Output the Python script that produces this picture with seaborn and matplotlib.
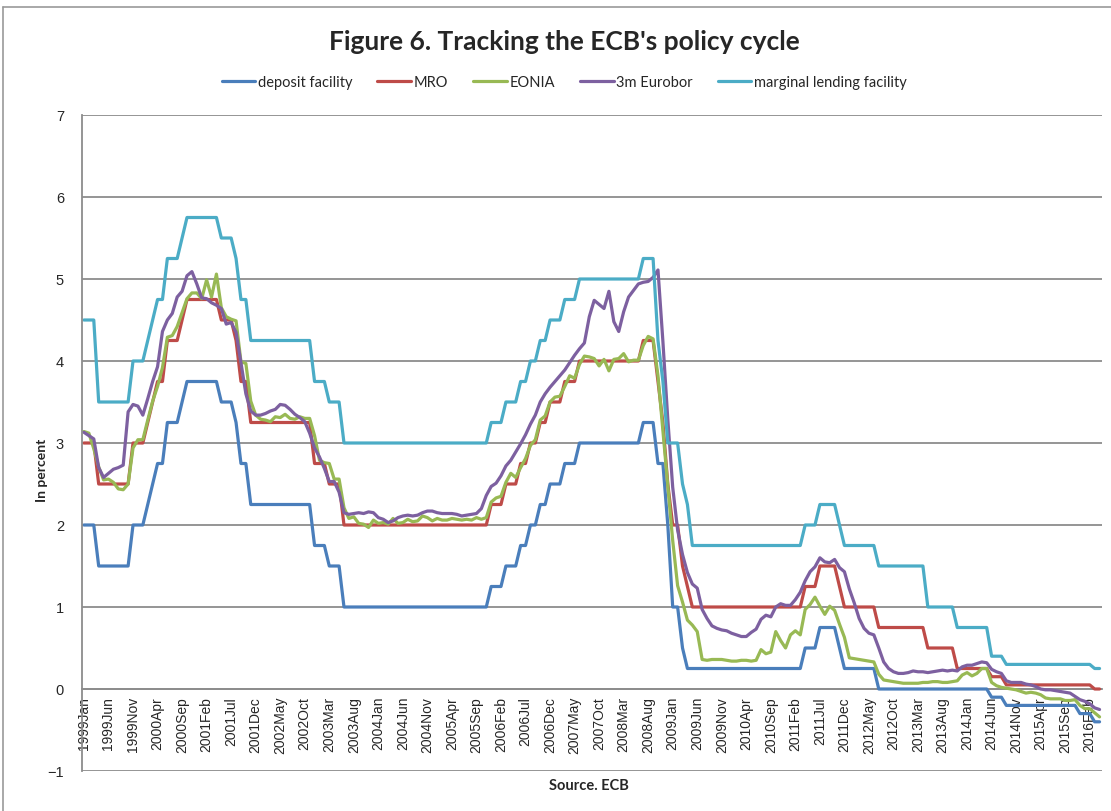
import numpy as np
import pandas as pd
import seaborn as sns
import matplotlib.pyplot as plt
from matplotlib.lines import Line2D

sns.set_theme(style="white")
plt.rcParams['font.family'] = ['Liberation Sans', 'DejaVu Sans']

# monthly data, 1999Jan .. 2016Apr (one row per year)
deposit = [
    2.00, 2.00, 2.00, 1.50, 1.50, 1.50, 1.50, 1.50, 1.50, 1.50, 2.00, 2.00,
    2.00, 2.25, 2.50, 2.75, 2.75, 3.25, 3.25, 3.25, 3.50, 3.75, 3.75, 3.75,
    3.75, 3.75, 3.75, 3.75, 3.50, 3.50, 3.50, 3.25, 2.75, 2.75, 2.25, 2.25,
    2.25, 2.25, 2.25, 2.25, 2.25, 2.25, 2.25, 2.25, 2.25, 2.25, 2.25, 1.75,
    1.75, 1.75, 1.50, 1.50, 1.50, 1.00, 1.00, 1.00, 1.00, 1.00, 1.00, 1.00,
    1.00, 1.00, 1.00, 1.00, 1.00, 1.00, 1.00, 1.00, 1.00, 1.00, 1.00, 1.00,
    1.00, 1.00, 1.00, 1.00, 1.00, 1.00, 1.00, 1.00, 1.00, 1.00, 1.00, 1.25,
    1.25, 1.25, 1.50, 1.50, 1.50, 1.75, 1.75, 2.00, 2.00, 2.25, 2.25, 2.50,
    2.50, 2.50, 2.75, 2.75, 2.75, 3.00, 3.00, 3.00, 3.00, 3.00, 3.00, 3.00,
    3.00, 3.00, 3.00, 3.00, 3.00, 3.00, 3.25, 3.25, 3.25, 2.75, 2.75, 2.00,
    1.00, 1.00, 0.50, 0.25, 0.25, 0.25, 0.25, 0.25, 0.25, 0.25, 0.25, 0.25,
    0.25, 0.25, 0.25, 0.25, 0.25, 0.25, 0.25, 0.25, 0.25, 0.25, 0.25, 0.25,
    0.25, 0.25, 0.25, 0.50, 0.50, 0.50, 0.75, 0.75, 0.75, 0.75, 0.50, 0.25,
    0.25, 0.25, 0.25, 0.25, 0.25, 0.25, 0.00, 0.00, 0.00, 0.00, 0.00, 0.00,
    0.00, 0.00, 0.00, 0.00, 0.00, 0.00, 0.00, 0.00, 0.00, 0.00, 0.00, 0.00,
    0.00, 0.00, 0.00, 0.00, 0.00, -0.10, -0.10, -0.10, -0.20, -0.20, -0.20, -0.20,
    -0.20, -0.20, -0.20, -0.20, -0.20, -0.20, -0.20, -0.20, -0.20, -0.20, -0.20, -0.30,
    -0.30, -0.30, -0.40, -0.40,
]
mro = [
    3.00, 3.00, 3.00, 2.50, 2.50, 2.50, 2.50, 2.50, 2.50, 2.50, 3.00, 3.00,
    3.00, 3.25, 3.50, 3.75, 3.75, 4.25, 4.25, 4.25, 4.50, 4.75, 4.75, 4.75,
    4.75, 4.75, 4.75, 4.75, 4.50, 4.50, 4.50, 4.25, 3.75, 3.75, 3.25, 3.25,
    3.25, 3.25, 3.25, 3.25, 3.25, 3.25, 3.25, 3.25, 3.25, 3.25, 3.25, 2.75,
    2.75, 2.75, 2.50, 2.50, 2.50, 2.00, 2.00, 2.00, 2.00, 2.00, 2.00, 2.00,
    2.00, 2.00, 2.00, 2.00, 2.00, 2.00, 2.00, 2.00, 2.00, 2.00, 2.00, 2.00,
    2.00, 2.00, 2.00, 2.00, 2.00, 2.00, 2.00, 2.00, 2.00, 2.00, 2.00, 2.25,
    2.25, 2.25, 2.50, 2.50, 2.50, 2.75, 2.75, 3.00, 3.00, 3.25, 3.25, 3.50,
    3.50, 3.50, 3.75, 3.75, 3.75, 4.00, 4.00, 4.00, 4.00, 4.00, 4.00, 4.00,
    4.00, 4.00, 4.00, 4.00, 4.00, 4.00, 4.25, 4.25, 4.25, 3.75, 3.25, 2.50,
    2.00, 2.00, 1.50, 1.25, 1.00, 1.00, 1.00, 1.00, 1.00, 1.00, 1.00, 1.00,
    1.00, 1.00, 1.00, 1.00, 1.00, 1.00, 1.00, 1.00, 1.00, 1.00, 1.00, 1.00,
    1.00, 1.00, 1.00, 1.25, 1.25, 1.25, 1.50, 1.50, 1.50, 1.50, 1.25, 1.00,
    1.00, 1.00, 1.00, 1.00, 1.00, 1.00, 0.75, 0.75, 0.75, 0.75, 0.75, 0.75,
    0.75, 0.75, 0.75, 0.75, 0.50, 0.50, 0.50, 0.50, 0.50, 0.50, 0.25, 0.25,
    0.25, 0.25, 0.25, 0.25, 0.25, 0.15, 0.15, 0.15, 0.05, 0.05, 0.05, 0.05,
    0.05, 0.05, 0.05, 0.05, 0.05, 0.05, 0.05, 0.05, 0.05, 0.05, 0.05, 0.05,
    0.05, 0.05, 0.00, 0.00,
]
eonia = [
    3.14, 3.12, 2.93, 2.71, 2.55, 2.56, 2.52, 2.44, 2.43, 2.50, 2.94, 3.04,
    3.04, 3.28, 3.51, 3.69, 3.92, 4.29, 4.31, 4.42, 4.59, 4.76, 4.83, 4.83,
    4.76, 4.99, 4.78, 5.06, 4.65, 4.54, 4.51, 4.49, 3.99, 3.97, 3.51, 3.34,
    3.29, 3.28, 3.26, 3.32, 3.31, 3.35, 3.30, 3.29, 3.32, 3.30, 3.30, 3.09,
    2.79, 2.76, 2.75, 2.56, 2.56, 2.21, 2.08, 2.10, 2.02, 2.01, 1.97, 2.06,
    2.02, 2.03, 2.01, 2.08, 2.02, 2.03, 2.07, 2.04, 2.05, 2.11, 2.09, 2.05,
    2.08, 2.06, 2.06, 2.08, 2.07, 2.06, 2.07, 2.06, 2.09, 2.07, 2.09, 2.28,
    2.33, 2.35, 2.52, 2.63, 2.58, 2.70, 2.81, 2.97, 3.04, 3.28, 3.33, 3.50,
    3.56, 3.57, 3.69, 3.82, 3.79, 3.96, 4.06, 4.05, 4.03, 3.94, 4.02, 3.88,
    4.02, 4.03, 4.09, 3.99, 4.01, 4.01, 4.19, 4.30, 4.27, 3.82, 3.15, 2.49,
    1.81, 1.26, 1.06, 0.84, 0.78, 0.70, 0.36, 0.35, 0.36, 0.36, 0.36, 0.35,
    0.34, 0.34, 0.35, 0.35, 0.34, 0.35, 0.48, 0.43, 0.45, 0.70, 0.59, 0.50,
    0.66, 0.71, 0.66, 0.97, 1.03, 1.12, 1.01, 0.91, 1.01, 0.96, 0.79, 0.63,
    0.38, 0.37, 0.36, 0.35, 0.34, 0.33, 0.18, 0.11, 0.10, 0.09, 0.08, 0.07,
    0.07, 0.07, 0.07, 0.08, 0.08, 0.09, 0.09, 0.08, 0.08, 0.09, 0.10, 0.17,
    0.20, 0.16, 0.19, 0.25, 0.25, 0.08, 0.04, 0.02, 0.01, 0.00, -0.01, -0.03,
    -0.05, -0.04, -0.05, -0.07, -0.11, -0.12, -0.12, -0.12, -0.14, -0.14, -0.13, -0.20,
    -0.24, -0.24, -0.29, -0.34,
]
euribor = [
    3.13, 3.09, 3.05, 2.70, 2.58, 2.63, 2.68, 2.70, 2.73, 3.38, 3.47, 3.45,
    3.34, 3.54, 3.75, 3.93, 4.36, 4.50, 4.58, 4.78, 4.85, 5.04, 5.09, 4.94,
    4.77, 4.76, 4.71, 4.68, 4.64, 4.45, 4.47, 4.35, 3.98, 3.60, 3.39, 3.34,
    3.34, 3.36, 3.39, 3.41, 3.47, 3.46, 3.41, 3.35, 3.31, 3.26, 3.12, 2.94,
    2.83, 2.69, 2.53, 2.53, 2.40, 2.15, 2.13, 2.14, 2.15, 2.14, 2.16, 2.15,
    2.09, 2.07, 2.03, 2.05, 2.09, 2.11, 2.12, 2.11, 2.12, 2.15, 2.17, 2.17,
    2.15, 2.14, 2.14, 2.14, 2.13, 2.11, 2.12, 2.13, 2.14, 2.20, 2.36, 2.47,
    2.51, 2.60, 2.72, 2.79, 2.89, 2.99, 3.10, 3.23, 3.34, 3.50, 3.60, 3.68,
    3.75, 3.82, 3.89, 3.98, 4.07, 4.15, 4.22, 4.54, 4.74, 4.69, 4.64, 4.85,
    4.48, 4.36, 4.60, 4.78, 4.86, 4.94, 4.96, 4.97, 5.02, 5.11, 4.24, 3.29,
    2.46, 1.94, 1.64, 1.42, 1.28, 1.23, 0.97, 0.86, 0.77, 0.74, 0.72, 0.71,
    0.68, 0.66, 0.64, 0.64, 0.69, 0.73, 0.85, 0.90, 0.88, 1.00, 1.04, 1.02,
    1.02, 1.09, 1.18, 1.32, 1.43, 1.49, 1.60, 1.55, 1.54, 1.58, 1.48, 1.43,
    1.22, 1.05, 0.86, 0.74, 0.68, 0.66, 0.50, 0.33, 0.25, 0.21, 0.19, 0.19,
    0.20, 0.22, 0.21, 0.21, 0.20, 0.21, 0.22, 0.23, 0.22, 0.23, 0.22, 0.27,
    0.29, 0.29, 0.31, 0.33, 0.32, 0.24, 0.21, 0.19, 0.10, 0.08, 0.08, 0.08,
    0.06, 0.05, 0.03, 0.00, -0.01, -0.01, -0.02, -0.03, -0.04, -0.05, -0.09, -0.13,
    -0.15, -0.18, -0.23, -0.25,
]
marginal = [
    4.50, 4.50, 4.50, 3.50, 3.50, 3.50, 3.50, 3.50, 3.50, 3.50, 4.00, 4.00,
    4.00, 4.25, 4.50, 4.75, 4.75, 5.25, 5.25, 5.25, 5.50, 5.75, 5.75, 5.75,
    5.75, 5.75, 5.75, 5.75, 5.50, 5.50, 5.50, 5.25, 4.75, 4.75, 4.25, 4.25,
    4.25, 4.25, 4.25, 4.25, 4.25, 4.25, 4.25, 4.25, 4.25, 4.25, 4.25, 3.75,
    3.75, 3.75, 3.50, 3.50, 3.50, 3.00, 3.00, 3.00, 3.00, 3.00, 3.00, 3.00,
    3.00, 3.00, 3.00, 3.00, 3.00, 3.00, 3.00, 3.00, 3.00, 3.00, 3.00, 3.00,
    3.00, 3.00, 3.00, 3.00, 3.00, 3.00, 3.00, 3.00, 3.00, 3.00, 3.00, 3.25,
    3.25, 3.25, 3.50, 3.50, 3.50, 3.75, 3.75, 4.00, 4.00, 4.25, 4.25, 4.50,
    4.50, 4.50, 4.75, 4.75, 4.75, 5.00, 5.00, 5.00, 5.00, 5.00, 5.00, 5.00,
    5.00, 5.00, 5.00, 5.00, 5.00, 5.00, 5.25, 5.25, 5.25, 4.25, 3.75, 3.00,
    3.00, 3.00, 2.50, 2.25, 1.75, 1.75, 1.75, 1.75, 1.75, 1.75, 1.75, 1.75,
    1.75, 1.75, 1.75, 1.75, 1.75, 1.75, 1.75, 1.75, 1.75, 1.75, 1.75, 1.75,
    1.75, 1.75, 1.75, 2.00, 2.00, 2.00, 2.25, 2.25, 2.25, 2.25, 2.00, 1.75,
    1.75, 1.75, 1.75, 1.75, 1.75, 1.75, 1.50, 1.50, 1.50, 1.50, 1.50, 1.50,
    1.50, 1.50, 1.50, 1.50, 1.00, 1.00, 1.00, 1.00, 1.00, 1.00, 0.75, 0.75,
    0.75, 0.75, 0.75, 0.75, 0.75, 0.40, 0.40, 0.40, 0.30, 0.30, 0.30, 0.30,
    0.30, 0.30, 0.30, 0.30, 0.30, 0.30, 0.30, 0.30, 0.30, 0.30, 0.30, 0.30,
    0.30, 0.30, 0.25, 0.25,
]

series_names = ["deposit facility", "MRO", "EONIA", "3m Eurobor", "marginal lending facility"]
colors = ["#4A7EBB", "#BE4B48", "#98B954", "#7D60A0", "#4BACC6"]

tick_labels = [
    "1999Jan", "1999Jun", "1999Nov", "2000Apr", "2000Sep", "2001Feb", "2001Jul",
    "2001Dec", "2002May", "2002Oct", "2003Mar", "2003Aug", "2004Jan", "2004Jun",
    "2004Nov", "2005Apr", "2005Sep", "2006Feb", "2006Jul", "2006Dec", "2007May",
    "2007Oct", "2008Mar", "2008Aug", "2009Jan", "2009Jun", "2009Nov", "2010Apr",
    "2010Sep", "2011Feb", "2011Jul", "2011Dec", "2012May", "2012Oct", "2013Mar",
    "2013Aug", "2014Jan", "2014Jun", "2014Nov", "2015Apr", "2015Sep", "2016Feb",
]

n = len(deposit)
df = pd.DataFrame({"month": np.arange(n)})
for name, vals in zip(series_names, [deposit, mro, eonia, euribor, marginal]):
    df[name] = vals
long = df.melt(id_vars="month", var_name="series", value_name="rate")

grid_col = "#8C8C8C"
fig = plt.figure(figsize=(11.11, 8.12), dpi=100)
ax = fig.add_axes([82 / 1111, 1 - 772 / 812, 1020 / 1111, 656 / 812])

sns.lineplot(data=long, x="month", y="rate", hue="series", hue_order=series_names,
             palette=colors, linewidth=2.3, estimator=None, ax=ax)

ax.set_xlim(-0.4, 207.5)
ax.set_ylim(-1, 7)
ax.set_yticks(range(-1, 8))
ax.set_axisbelow(True)
ax.yaxis.grid(True, color=grid_col, linewidth=1.3)
ax.xaxis.grid(False)
for s in ["top", "right"]:
    ax.spines[s].set_visible(False)
ax.spines["left"].set_color(grid_col)
ax.spines["left"].set_linewidth(1.3)
ax.spines["bottom"].set_position(("data", 0))
ax.spines["bottom"].set_color(grid_col)
ax.spines["bottom"].set_linewidth(1.3)
ax.spines["bottom"].set_zorder(1.5)

# every month gets a tick, every fifth month a label
labels = [""] * n
for k, lab in enumerate(tick_labels):
    labels[k * 5] = lab
ax.set_xticks(np.arange(n))
ax.set_xticklabels(labels)
ax.tick_params(axis="x", direction="inout", length=6, width=1, color=grid_col,
               pad=2, labelsize=10, labelrotation=90, labelcolor="#262626")
ax.tick_params(axis="y", direction="out", length=5, width=1.3, color=grid_col,
               pad=8, labelsize=10.5, labelcolor="#262626")
ax.set_xlabel("")
ax.set_ylabel("")

handles, _ = ax.get_legend_handles_labels()
ax.get_legend().remove()
fig.legend(handles, series_names, loc="center", bbox_to_anchor=(0.508, 1 - 83 / 812),
           ncol=5, frameon=False, handlelength=2.3, columnspacing=1.7,
           handletextpad=0.2, prop={"family": "Lato", "size": 10.5})

fig.text(0.508, 1 - 42 / 812, "Figure 6. Tracking the ECB's policy cycle",
         ha="center", va="center", fontsize=19, fontweight="bold", family="Lato")
fig.text(42 / 1111, 1 - 470 / 812, "In percent", rotation=90, ha="center", va="center",
         fontsize=10, fontweight="bold", family="Lato")
fig.text(589 / 1111, 1 - 786 / 812, "Source. ECB", ha="center", va="center",
         fontsize=10.5, fontweight="bold", family="Lato")

# chart-area border
fig.add_artist(Line2D([3 / 1111, 1], [1 - 8 / 812, 1 - 8 / 812], color="#999999", lw=1.2))
fig.add_artist(Line2D([3 / 1111, 3 / 1111], [0, 1 - 8 / 812], color="#999999", lw=1.2))

fig.savefig("out.png", dpi=100)
